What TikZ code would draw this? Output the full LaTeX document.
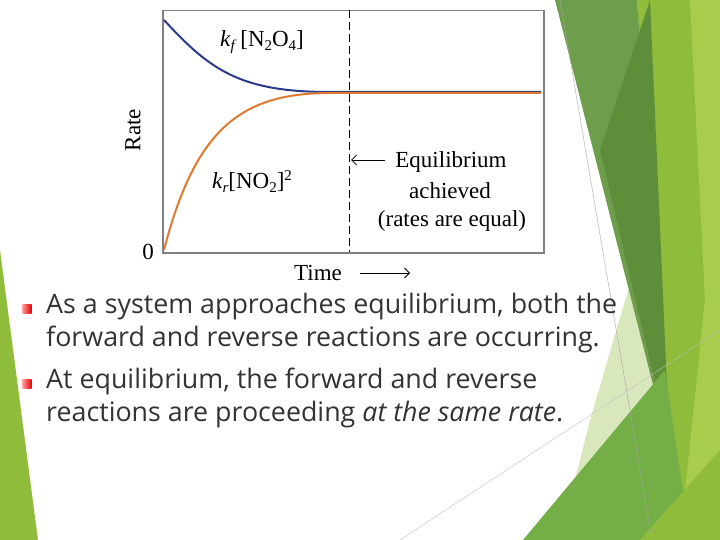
\documentclass[tikz,border=0pt]{standalone}
\usepackage{fontspec}
\setmainfont{Liberation Serif}
\newfontfamily\bodyfont{Open Sans}
\usetikzlibrary{arrows.meta}
\definecolor{dkg}{HTML}{6E9E4C}
\definecolor{ltg}{HTML}{8FBC3A}
\definecolor{ltg2}{HTML}{A8CC4C}
\definecolor{pale}{HTML}{D9E8BC}
\definecolor{midg}{HTML}{74AE47}
\definecolor{deep}{HTML}{5E8E3A}
\definecolor{txt}{HTML}{333333}
\definecolor{blu}{HTML}{2B3A8C}
\definecolor{org}{HTML}{E07A30}
\tikzset{lab/.style={font=\fontsize{23}{26}\selectfont, inner sep=0pt},
body/.style={font=\bodyfont\fontsize{26.8}{33}\selectfont, text=txt, anchor=north west, inner sep=0pt, align=left},
bul/.style={minimum size=9pt, inner sep=0pt, left color=red!40, right color=red!90!black, draw=none}}
\begin{document}
\begin{tikzpicture}[x=1pt,y=-1pt]
\useasboundingbox (0,0) rectangle (720,540);
\fill[white] (0,0) rectangle (720,540);
% decorations
\fill[ltg] (0,250) -- (38,540) -- (0,540) -- cycle;
\fill[ltg] (637,0) -- (720,0) -- (720,540) -- (640,540) -- (665,410) -- cycle;
\fill[ltg2] (690,0) -- (720,0) -- (720,540) -- (680,540) -- (705,300) -- cycle;
\fill[pale] (640,250) -- (668,410) -- (640,520) -- (560,540) -- (590,420) -- cycle;
\fill[dkg] (555,0) -- (637,0) -- (668,410) -- (662,420) -- cycle;
\fill[deep] (600,150) -- (650,0) -- (668,410) -- (664,420) -- cycle;
\fill[midg] (523,540) -- (665,370) -- (690,540) -- cycle;
\fill[ltg] (640,540) -- (720,450) -- (720,540) -- cycle;
\draw[gray!70, line width=0.4pt] (560,0) -- (652,540);
\draw[gray!50, line width=0.4pt] (400,540) -- (720,330);
% chart
\fill[white] (162,10) rectangle (543,252);
\node[draw=gray, line width=1.5pt, minimum width=381pt, minimum height=242pt, anchor=north west, inner sep=0pt] (box) at (162,10) {};
\coordinate (dt) at (349,10);
\coordinate (db) at (349,252);
\draw[dashed, thick, dash pattern=on 8pt off 4pt] (dt) -- (db);
\draw[blu, line width=2pt] (164,20) .. controls (210,70) and (240,92) .. (330,92) -- (541,92);
\draw[org, line width=2pt] (164,250) .. controls (195,130) and (240,93) .. (330,93) -- (541,93);
\node[lab] (kf) at (262,42) {\textit{k}\raisebox{-4pt}{\fontsize{15}{15}\selectfont\textit{f}}\,[N\raisebox{-4pt}{\fontsize{15}{15}\selectfont 2}O\raisebox{-4pt}{\fontsize{15}{15}\selectfont 4}]};
\node[lab] (kr) at (252,182) {\textit{k}\raisebox{-4pt}{\fontsize{15}{15}\selectfont\textit{r}}[NO\raisebox{-4pt}{\fontsize{15}{15}\selectfont 2}]\raisebox{8pt}{\fontsize{15}{15}\selectfont 2}};
\node[lab, rotate=90] (rate) at (133,130) {Rate};
\node[lab] (zero) at (148,252) {0};
\node[lab] (time) at (318,273) {Time};
\coordinate (ta) at (360,273);
\coordinate (tb) at (410,273);
\draw[-{Straight Barb[length=5pt]}, thick] (ta) -- (tb);
\node[lab] (eq) at (451,162) {Equilibrium};
\node[lab] (ach) at (450,191) {achieved};
\node[lab] (req) at (452,221) {(rates are equal)};
\coordinate (ea) at (385,160);
\coordinate (eb) at (351,160);
\draw[-{Straight Barb[length=5pt]}, thick] (ea) -- (eb);
% bullets
\node[bul] (b1) at (27,309) {};
\node[bul] (b2) at (27,384) {};
\node[body] (t1) at (46,293) {As a system approaches equilibrium, both the\\forward and reverse reactions are occurring.};
\node[body] (t2) at (46,368) {At equilibrium, the forward and reverse\\reactions are proceeding \textit{at the same rate}.};
\end{tikzpicture}
\end{document}
